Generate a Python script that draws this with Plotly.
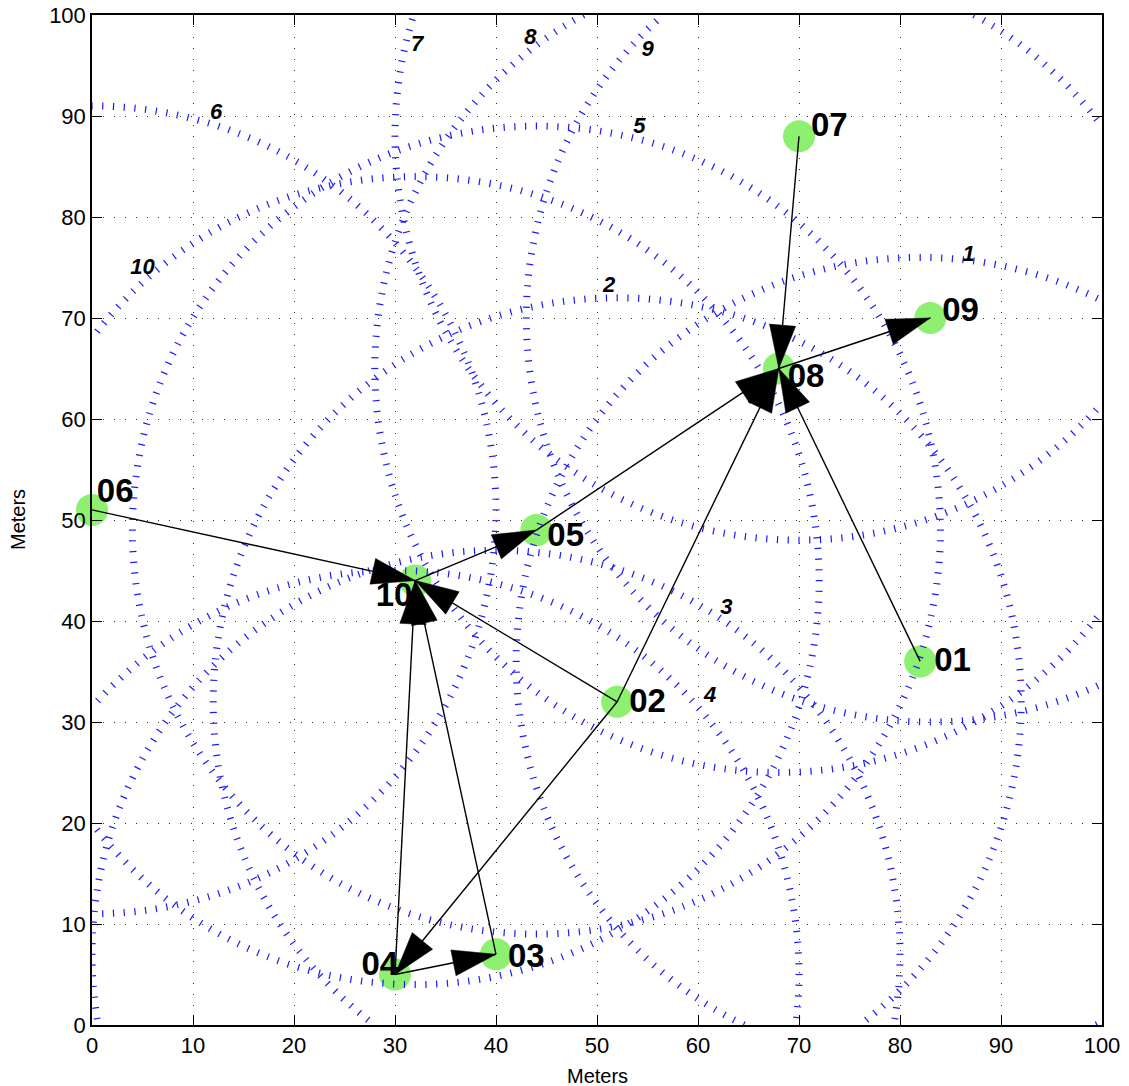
import numpy as np
import plotly.graph_objects as go

# Sensor nodes (position in meters)
node_ids = ["01", "02", "03", "04", "05", "06", "07", "08", "09", "10"]
node_x = [82, 52, 40, 30, 44, 0, 70, 68, 83, 32]
node_y = [36, 32, 7, 5, 49, 51, 88, 65, 70, 44]

# Directed links between nodes
edge_from = ["06", "10", "05", "02", "02", "02", "04", "03", "04", "07", "08", "01"]
edge_to = ["10", "05", "08", "10", "08", "04", "10", "10", "03", "08", "09", "08"]

# Communication range around every node
range_radius = 40
ring_names = ["1", "2", "3", "4", "5", "6", "7", "8", "9", "10"]

# Where each range ring carries its number
ring_label_x = [86.8, 51.2, 62.8, 61.2, 54.2, 12.3, 32.2, 43.4, 55.0, 5.0]
ring_label_y = [76.2, 73.1, 41.2, 32.5, 88.9, 90.2, 97.0, 97.7, 96.5, 74.9]

# Offset of each node name from its node
name_dx = [3.2, 3.0, 3.0, -1.5, 2.9, 2.3, 3.0, 2.7, 3.0, -2.1]
name_dy = [-0.1, -0.2, -0.4, 0.8, -0.8, 1.6, 0.8, -1.0, 0.5, -1.7]

tick_vals = list(range(0, 101, 10))

FONT = "Liberation Sans, Arial, sans-serif"
pos = {n: (x, y) for n, x, y in zip(node_ids, node_x, node_y)}

fig = go.Figure()

# Nodes
fig.add_trace(go.Scatter(
    x=node_x, y=node_y, mode="markers",
    marker=dict(size=32, color="#8EF070", line=dict(width=0)),
    cliponaxis=False, hoverinfo="skip", showlegend=False))

# Range rings drawn as short radial strokes
n_pts = 236
theta = np.linspace(0, 2 * np.pi, n_pts, endpoint=False)
rx, ry, ra = [], [], []
for cx, cy in zip(node_x, node_y):
    rx.extend(cx + range_radius * np.cos(theta))
    ry.extend(cy + range_radius * np.sin(theta))
    ra.extend(90 - np.degrees(theta))
fig.add_trace(go.Scatter(
    x=rx, y=ry, mode="markers",
    marker=dict(symbol="line-ns", size=5, angle=ra, color="#1a1aff",
                line=dict(color="#1a1aff", width=1.2)),
    cliponaxis=True, hoverinfo="skip", showlegend=False))

# Links
lx, ly = [], []
for s, t in zip(edge_from, edge_to):
    (sx, sy), (tx, ty) = pos[s], pos[t]
    lx += [sx, tx, None]
    ly += [sy, ty, None]
fig.add_trace(go.Scatter(
    x=lx, y=ly, mode="lines", line=dict(color="black", width=1.4),
    hoverinfo="skip", showlegend=False))

# Arrow heads, tip on the receiving node
head_len, head_half = 4.3, 1.3
hx, hy = [], []
for s, t in zip(edge_from, edge_to):
    (sx, sy), (tx, ty) = pos[s], pos[t]
    d = np.hypot(tx - sx, ty - sy)
    ux, uy = (tx - sx) / d, (ty - sy) / d
    bx, by = tx - head_len * ux, ty - head_len * uy
    hx += [tx, bx - head_half * uy, bx + head_half * uy, tx, None]
    hy += [ty, by + head_half * ux, by - head_half * ux, ty, None]
fig.add_trace(go.Scatter(
    x=hx, y=hy, mode="lines", fill="toself", fillcolor="black",
    line=dict(color="black", width=0.5),
    hoverinfo="skip", showlegend=False))

# Node names
fig.add_trace(go.Scatter(
    x=[x + dx for x, dx in zip(node_x, name_dx)],
    y=[y + dy for y, dy in zip(node_y, name_dy)],
    mode="text", text=node_ids, textposition="middle center",
    textfont=dict(family=FONT, size=33, color="black", weight="bold"),
    cliponaxis=False, hoverinfo="skip", showlegend=False))

# Ring numbers
fig.add_trace(go.Scatter(
    x=ring_label_x, y=ring_label_y, mode="text", text=ring_names,
    textposition="middle center",
    textfont=dict(family=FONT, size=22, color="black", weight="bold", style="italic"),
    cliponaxis=False, hoverinfo="skip", showlegend=False))

axis_style = dict(
    range=[0, 100], tickvals=tick_vals, ticktext=[str(v) for v in tick_vals],
    showline=True, linecolor="black", linewidth=1.5, mirror="ticks",
    ticks="inside", ticklen=10, tickwidth=1, tickcolor="black",
    showgrid=True, gridcolor="#333333", gridwidth=1, griddash="1px,10px",
    zeroline=False, automargin=False,
    tickfont=dict(family=FONT, size=22, color="black"),
    fixedrange=True,
)

fig.update_layout(
    template="none",
    width=1129, height=1086,
    margin=dict(l=92, r=27, t=15, b=61, autoexpand=False),
    paper_bgcolor="white", plot_bgcolor="white",
    xaxis=axis_style, yaxis=axis_style,
    showlegend=False,
    annotations=[
        dict(text="Meters", xref="paper", yref="paper", x=0.5, y=0,
             xanchor="center", yanchor="middle", yshift=-51, showarrow=False,
             font=dict(family=FONT, size=20, color="black")),
        dict(text="Meters", xref="paper", yref="paper", x=0, y=0.5,
             xanchor="center", yanchor="middle", xshift=-74, textangle=-90,
             showarrow=False, font=dict(family=FONT, size=20, color="black")),
    ],
)

fig.write_html("out.html")
